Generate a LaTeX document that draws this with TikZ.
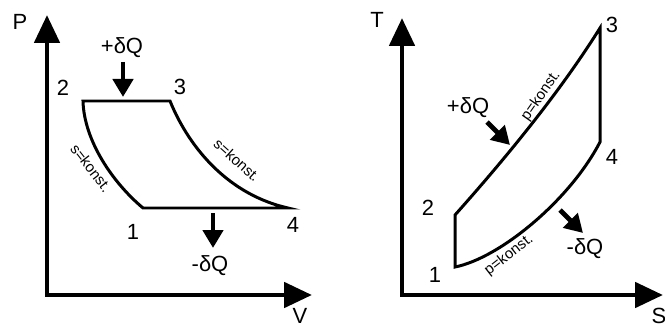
\documentclass[tikz,border=0pt]{standalone}
\usepackage{fontspec}
\setmainfont{Liberation Sans}
\usetikzlibrary{arrows.meta}
\tikzset{
    every node/.style={font=\fontsize{12.5}{14}\selectfont, inner sep=0pt},
    axisline/.style={
        line width=2.8pt, line join=miter,
        {Triangle[length=0.56cm,width=0.5cm]}-{Triangle[length=0.56cm,width=0.5cm]}
    },
    cyclepath/.style={line width=1.7pt, line join=miter},
    heatarrow/.style={
        line width=2.8pt, -{Triangle[length=0.36cm,width=0.4cm]}
    },
    konst/.style={font=\fontsize{8.5}{10}\selectfont},
}

\begin{document}
\begin{tikzpicture}[x=0.2mm, y=-0.2mm]
    \useasboundingbox (0,0) rectangle (665,324);

    % p-V diagram
    \coordinate (pvO) at (47,295);
    \coordinate (pvY) at (47,15);
    \coordinate (pvX) at (312,295);
    \draw[axisline] (pvY) -- (pvO) -- (pvX);
    \node (pvP) at (20,22) {P};
    \node (pvV) at (300,316) {V};

    \coordinate (a1) at (143,208);
    \coordinate (a2) at (83,101);
    \coordinate (a3) at (170,101);
    \coordinate (a4) at (288,208);
    \draw[cyclepath] (a2) -- (a3) .. controls (190,150) and (230,195) .. (a4)
        -- (a1) .. controls (112,182) and (84,140) .. cycle;

    \node (a1lbl) at (133,232) {1};
    \node (a2lbl) at (63,88) {2};
    \node (a3lbl) at (180,87) {3};
    \node (a4lbl) at (293,225) {4};
    \node[konst, rotate=-52] (a12lbl) at (91,168) {s=konst.};
    \node[konst, rotate=-42] (a34lbl) at (237,160) {s=konst.};

    % heat in / out
    \node (pvqin) at (122,48) {+δQ};
    \coordinate (pvqinA) at (123,62);
    \coordinate (pvqinB) at (123,97);
    \draw[heatarrow] (pvqinA) -- (pvqinB);
    \coordinate (pvqoutA) at (213,213);
    \coordinate (pvqoutB) at (213,248);
    \draw[heatarrow] (pvqoutA) -- (pvqoutB);
    \node (pvqout) at (210,266) {-δQ};

    % T-s diagram
    \coordinate (tsO) at (402,295);
    \coordinate (tsY) at (402,18);
    \coordinate (tsX) at (663,295);
    \draw[axisline] (tsY) -- (tsO) -- (tsX);
    \node (tsT) at (377,20) {T};
    \node (tsS) at (659,316) {S};

    \coordinate (b1) at (455,267);
    \coordinate (b2) at (455,215);
    \coordinate (b3) at (600,28);
    \coordinate (b4) at (600,142);
    \draw[cyclepath] (b2) .. controls (495,170) and (555,100) .. (b3)
        -- (b4) .. controls (570,200) and (500,258) .. (b1) -- cycle;

    \node (b1lbl) at (435,275) {1};
    \node (b2lbl) at (428,208) {2};
    \node (b3lbl) at (612,25) {3};
    \node (b4lbl) at (612,157) {4};
    \node[konst, rotate=55] (b23lbl) at (541,96) {p=konst.};
    \node[konst, rotate=38] (b14lbl) at (509,255) {p=konst.};

    % heat in / out
    \node (tsqin) at (468,108) {+δQ};
    \coordinate (tsqinA) at (487,122);
    \coordinate (tsqinB) at (510,145);
    \draw[heatarrow] (tsqinA) -- (tsqinB);
    \coordinate (tsqoutA) at (560,210);
    \coordinate (tsqoutB) at (583,233);
    \draw[heatarrow] (tsqoutA) -- (tsqoutB);
    \node (tsqout) at (585,249) {-δQ};
\end{tikzpicture}
\end{document}
